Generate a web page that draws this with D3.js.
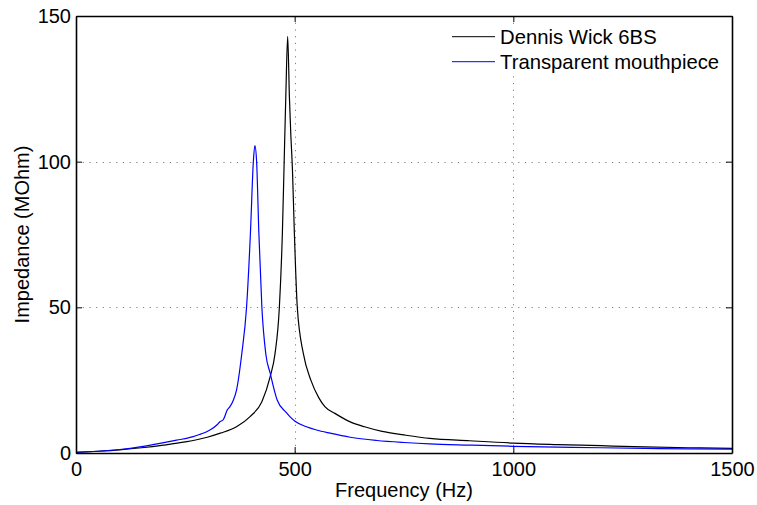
<!DOCTYPE html>
<html>
<head>
<meta charset="utf-8">
<script src="https://cdn.jsdelivr.net/npm/d3@7"></script>
<style>
  body { margin: 0; background: #fff; overflow: hidden; }
  text { font-family: "Liberation Sans", Arial, sans-serif; }
</style>
</head>
<body>
<script>
// values
const xTicks = [0, 500, 1000, 1500];
const yTicks = [0, 50, 100, 150];
const seriesNames = ["Dennis Wick 6BS", "Transparent mouthpiece"];
const seriesColors = ["#000000", "#0000ff"];

const dennisFreq = [0, 50, 100, 150, 200, 250, 300, 330, 367, 398, 425, 444, 455, 465, 472, 476, 480, 484, 488, 491, 495, 499, 506, 520, 537, 555, 569, 592, 627, 660, 700, 750, 809, 900, 1000, 1100, 1200, 1300, 1400, 1500];
const dennisZ = [0.2, 0.6, 1.1, 1.8, 2.7, 3.8, 5.4, 6.8, 9.0, 12.5, 17.6, 26.2, 34, 50, 76, 100, 124, 143, 122, 110, 97, 77, 50, 34, 25, 19, 15.9, 13.6, 10.7, 9.0, 7.4, 6.2, 5.0, 4.2, 3.4, 2.9, 2.5, 2.1, 1.8, 1.6];

const transFreq = [0, 50, 100, 150, 192, 230, 268, 285, 299, 310, 322, 329, 337, 346, 352, 360, 367, 379, 390, 399, 405.5, 409, 413, 418, 425, 434, 444, 460, 480, 489, 500, 527, 550, 581, 627, 688, 750, 809, 900, 1000, 1100, 1200, 1300, 1400, 1500];
const transZ = [0.2, 0.6, 1.2, 2.2, 3.3, 4.4, 5.6, 6.5, 7.3, 8.2, 9.6, 10.7, 11.5, 14.8, 15.9, 18.2, 21.6, 34, 50, 76, 100, 105.5, 100, 76, 50, 34, 27.4, 18.2, 14, 12.5, 11, 9.0, 7.9, 6.8, 5.4, 4.3, 3.6, 3.1, 2.7, 2.3, 2.0, 1.8, 1.6, 1.4, 1.3];

const width = 757, height = 505;
const margin = { top: 16, right: 25, bottom: 52, left: 76 };
const innerWidth = width - margin.left - margin.right;
const innerHeight = height - margin.top - margin.bottom;

const xScale = d3.scaleLinear().domain([0, 1500]).range([0, innerWidth]);
const yScale = d3.scaleLinear().domain([0, 150]).range([innerHeight, 0]);

const svg = d3.select("body").append("svg")
    .attr("width", width)
    .attr("height", height)
    .style("display", "block");

const g = svg.append("g")
    .attr("transform", `translate(${margin.left}, ${margin.top})`);

// dotted grid
const grid = g.append("g")
    .attr("stroke", "#808080")
    .attr("stroke-width", 1)
    .attr("stroke-dasharray", "1.2,5.5");
grid.selectAll(".vg").data(xTicks.slice(1, -1)).join("line")
    .attr("x1", d => Math.round(xScale(d)) + 0.5).attr("x2", d => Math.round(xScale(d)) + 0.5)
    .attr("y1", 0).attr("y2", innerHeight);
grid.selectAll(".hg").data(yTicks.slice(1, -1)).join("line")
    .attr("y1", d => Math.round(yScale(d)) + 0.5).attr("y2", d => Math.round(yScale(d)) + 0.5)
    .attr("x1", 0).attr("x2", innerWidth);

// curves
const series = [
    { freq: dennisFreq, z: dennisZ },
    { freq: transFreq, z: transZ }
];
const line = d3.line()
    .x(d => xScale(d[0]))
    .y(d => yScale(d[1]))
    .curve(d3.curveMonotoneX);

series.forEach((s, i) => {
    g.append("path")
        .datum(s.freq.map((f, j) => [f, s.z[j]]))
        .attr("fill", "none")
        .attr("stroke", seriesColors[i])
        .attr("stroke-width", 1.2)
        .attr("d", line);
});

// axes, ticks pointing inward
const styleAxis = sel => {
    sel.selectAll("path").attr("stroke", "#000").attr("stroke-width", 1.6);
    sel.selectAll("line").attr("stroke", "#000").attr("stroke-width", 1);
    sel.selectAll("text").attr("fill", "#000").attr("font-size", 20)
        .attr("font-family", "Liberation Sans, Arial, sans-serif");
};
const fmt = d3.format("d");

g.append("g").attr("transform", `translate(0, ${innerHeight})`)
    .call(d3.axisBottom(xScale).tickValues(xTicks).tickFormat(fmt).tickSizeInner(-6).tickSizeOuter(0).tickPadding(9))
    .call(styleAxis);
g.append("g")
    .call(d3.axisTop(xScale).tickValues(xTicks).tickSizeInner(-6).tickSizeOuter(0).tickFormat(""))
    .call(styleAxis);
g.append("g")
    .call(d3.axisLeft(yScale).tickValues(yTicks).tickFormat(fmt).tickSizeInner(-6).tickSizeOuter(0).tickPadding(5))
    .call(styleAxis);
g.append("g").attr("transform", `translate(${innerWidth}, 0)`)
    .call(d3.axisRight(yScale).tickValues(yTicks).tickSizeInner(-6).tickSizeOuter(0).tickFormat(""))
    .call(styleAxis);

// axis labels
svg.append("text")
    .attr("x", margin.left + innerWidth / 2)
    .attr("y", 497)
    .attr("text-anchor", "middle")
    .attr("font-size", 20)
    .text("Frequency (Hz)");
svg.append("text")
    .attr("transform", `translate(28.5, ${margin.top + innerHeight / 2}) rotate(-90)`)
    .attr("text-anchor", "middle")
    .attr("font-size", 20)
    .text("Impedance (MOhm)");

// legend
const legend = svg.append("g");
legend.append("rect")
    .attr("x", 446).attr("y", 24).attr("width", 284).attr("height", 48)
    .attr("fill", "#fff");
seriesNames.forEach((name, i) => {
    const ly = 36.7 + i * 25;
    legend.append("line")
        .attr("x1", 452).attr("x2", 495)
        .attr("y1", ly).attr("y2", ly)
        .attr("stroke", seriesColors[i])
        .attr("stroke-width", 1);
    legend.append("text")
        .attr("x", 500).attr("y", ly + 7.5)
        .attr("font-size", 20.3)
        .attr("fill", "#000")
        .text(name);
});
</script>
</body>
</html>
